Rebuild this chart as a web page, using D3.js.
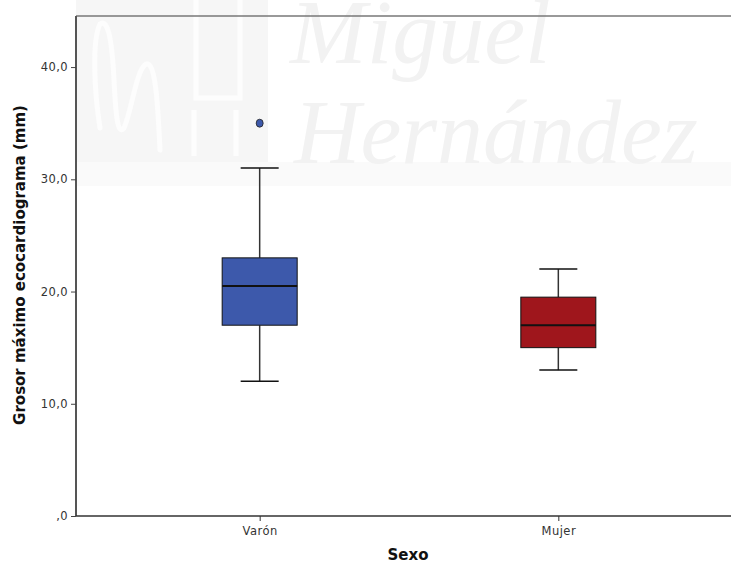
<!DOCTYPE html>
<html><head><meta charset="utf-8">
<script src="https://cdn.jsdelivr.net/npm/d3@7"></script>
<style>body{margin:0;background:#fff}svg{display:block}</style>
</head><body>
<svg id="c" width="731" height="563"></svg>
<script>
const categories = ["Varón", "Mujer"];
const lowerWhisker = [12, 13];
const q1 = [17, 15];
const median = [20.5, 17];
const q3 = [23, 19.5];
const upperWhisker = [31, 22];
const outliers = [[35], []];
const colors = ["#3d59ab", "#9f161c"];
const yTicks = [0, 10, 20, 30, 40];
const yLabel = "Grosor máximo ecocardiograma (mm)";
const xLabel = "Sexo";

const svg = d3.select("#c");
const pLeft = 76, pRight = 742, pTop = 16, pBottom = 516;

// watermark (decorative background)
const wm = svg.append("g");
wm.append("rect").attr("x", 76).attr("y", 162).attr("width", 655).attr("height", 24).attr("fill", "#fafafa");
wm.append("rect").attr("x", 76).attr("y", 0).attr("width", 192).attr("height", 162).attr("fill", "#f6f6f6");
wm.append("path").attr("fill", "none").attr("stroke", "#fdfdfd").attr("stroke-width", 5)
  .attr("stroke-linecap", "round")
  .attr("d", "M100,128 C94,90 92,40 100,24 C108,18 112,40 114,80 C116,120 118,135 124,128 C132,110 136,70 146,64 C156,60 158,110 160,150");
wm.append("path").attr("fill", "none").attr("stroke", "#fdfdfd").attr("stroke-width", 5)
  .attr("d", "M196,0 V98 H240 V0 M194,110 V156 M236,110 V156");
const wt = wm.append("g").attr("fill", "#f2f2f2").attr("font-family", "Liberation Serif, serif").attr("font-style", "italic");
wt.append("text").attr("x", 290).attr("y", 63).attr("font-size", 92).text("Miguel");
wt.append("text").attr("x", 294).attr("y", 163).attr("font-size", 92).text("Hernández");

const y = d3.scaleLinear().domain([0, 44.55]).range([pBottom, pTop]);
const x = d3.scalePoint().domain(categories).range([pLeft, pRight]).padding(0.615);

// frame top
svg.append("line").attr("x1", pLeft).attr("x2", 731).attr("y1", pTop).attr("y2", pTop)
  .attr("stroke", "#777").attr("stroke-width", 1.5);

// y axis
const ya = svg.append("g").attr("transform", `translate(${pLeft},0)`)
  .call(d3.axisLeft(y).tickValues(yTicks).tickSize(5).tickPadding(3)
    .tickFormat(d => d3.format(".1f")(d).replace(".", ",").replace(/^0,/, ",")));
ya.select(".domain").attr("stroke", "#555").attr("stroke-width", 2).attr("d", `M0,${pTop}V${pBottom}`);
ya.selectAll(".tick line").attr("stroke", "#444");
ya.selectAll(".tick text").attr("fill", "#333").attr("font-family", "DejaVu Sans, sans-serif")
  .attr("font-size", 11.5).attr("letter-spacing", 0.4);

// x axis
const xa = svg.append("g").attr("transform", `translate(0,${pBottom})`)
  .call(d3.axisBottom(x).tickSize(5).tickPadding(6));
xa.select(".domain").attr("stroke", "#333").attr("stroke-width", 1.5).attr("d", `M${pLeft},0H731`);
xa.selectAll(".tick line").attr("stroke", "#333");
xa.selectAll(".tick text").attr("fill", "#333").attr("font-family", "DejaVu Sans, sans-serif")
  .attr("font-size", 11.5).attr("letter-spacing", 0.5);

// boxes
const boxW = 75, capW = 38;
categories.forEach((c, i) => {
  const cx = x(c);
  const g = svg.append("g");
  g.append("line").attr("x1", cx).attr("x2", cx).attr("y1", y(upperWhisker[i])).attr("y2", y(q3[i]))
    .attr("stroke", "#333").attr("stroke-width", 1.5);
  g.append("line").attr("x1", cx).attr("x2", cx).attr("y1", y(q1[i])).attr("y2", y(lowerWhisker[i]))
    .attr("stroke", "#333").attr("stroke-width", 1.5);
  [upperWhisker[i], lowerWhisker[i]].forEach(v => {
    g.append("line").attr("x1", cx - capW / 2).attr("x2", cx + capW / 2).attr("y1", y(v)).attr("y2", y(v))
      .attr("stroke", "#111").attr("stroke-width", 1.5);
  });
  g.append("rect").attr("x", cx - boxW / 2).attr("width", boxW)
    .attr("y", y(q3[i])).attr("height", y(q1[i]) - y(q3[i]))
    .attr("fill", colors[i]).attr("stroke", "#111").attr("stroke-width", 1);
  g.append("line").attr("x1", cx - boxW / 2).attr("x2", cx + boxW / 2).attr("y1", y(median[i])).attr("y2", y(median[i]))
    .attr("stroke", "#111").attr("stroke-width", 2);
  outliers[i].forEach(v => {
    g.append("ellipse").attr("cx", cx).attr("cy", y(v)).attr("rx", 3.5).attr("ry", 4)
      .attr("fill", colors[i]).attr("stroke", "#222").attr("stroke-width", 0.8);
  });
});

// labels
svg.append("text").attr("x", 408).attr("y", 560).attr("text-anchor", "middle")
  .attr("font-family", "DejaVu Sans, sans-serif").attr("font-weight", "bold").attr("font-size", 15)
  .attr("fill", "#111").text(xLabel);
svg.append("text").attr("transform", "translate(25,265) rotate(-90)").attr("text-anchor", "middle")
  .attr("font-family", "DejaVu Sans, sans-serif").attr("font-weight", "bold").attr("font-size", 15)
  .attr("fill", "#111").text(yLabel);
</script>
</body></html>
